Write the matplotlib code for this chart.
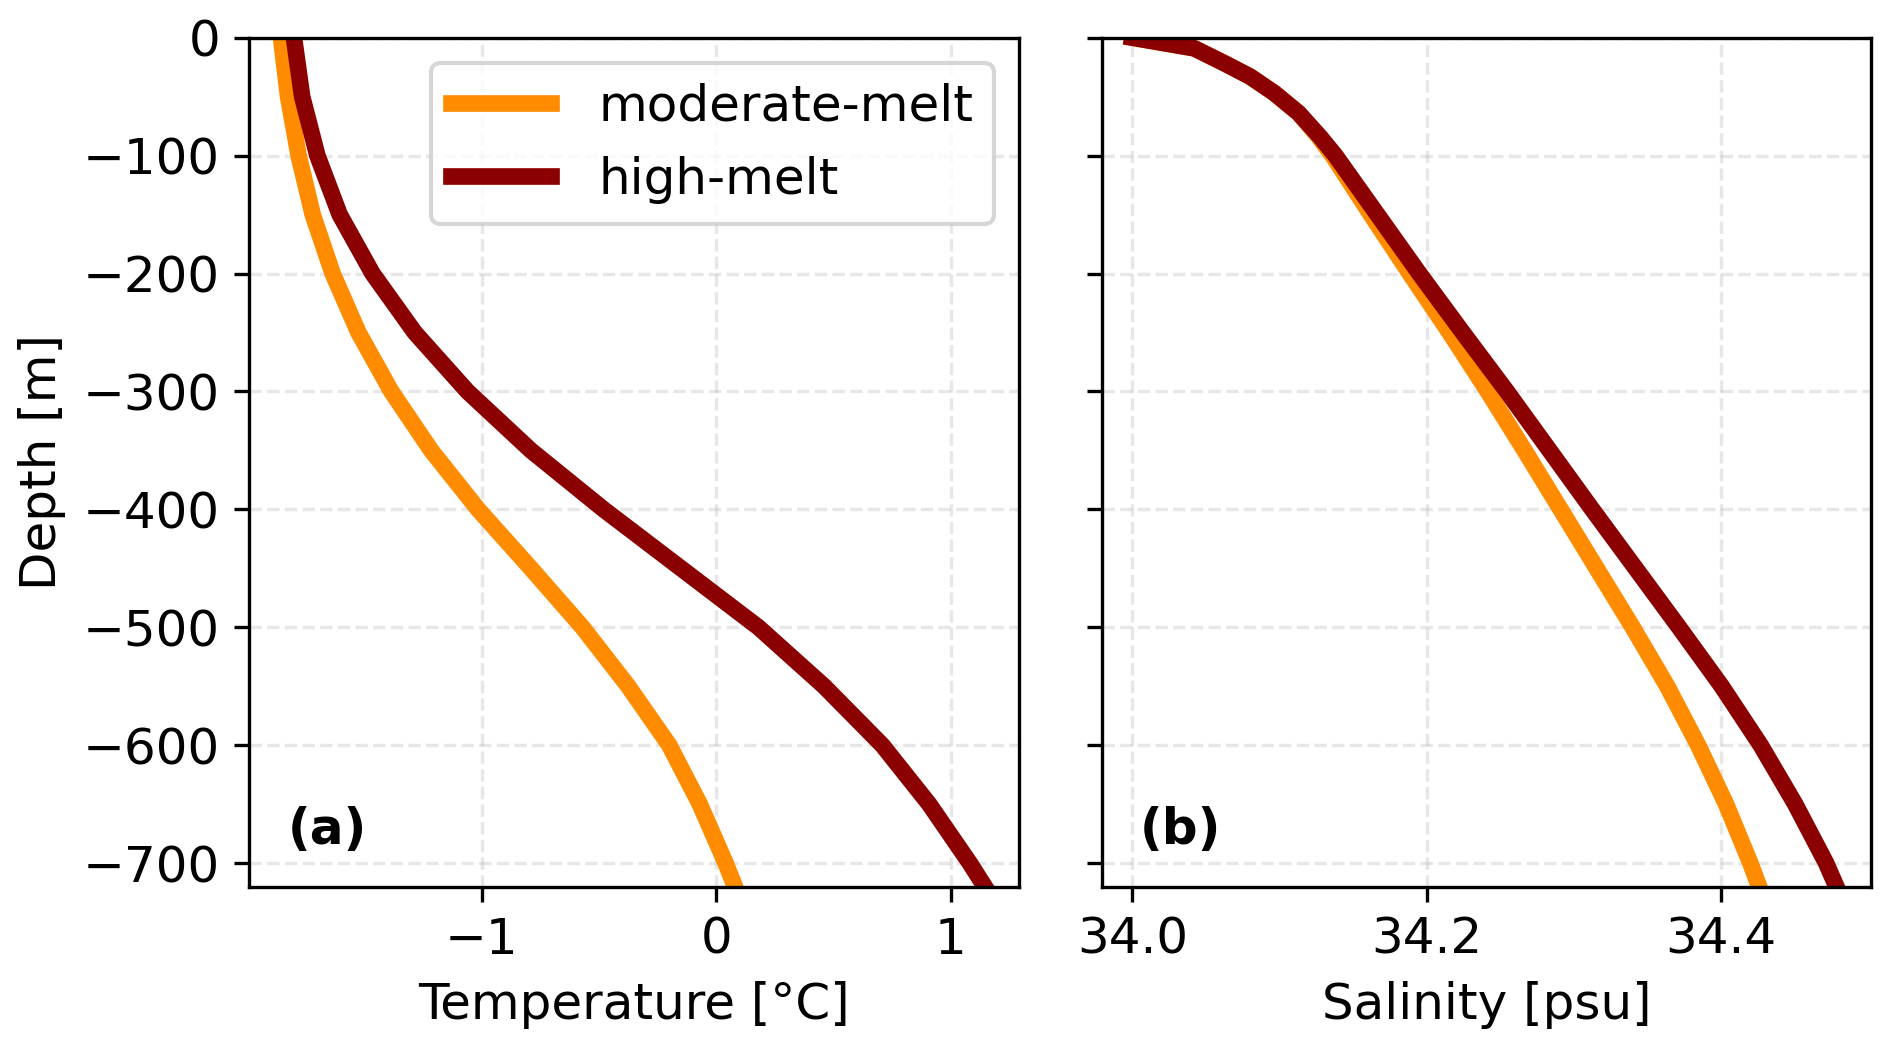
import matplotlib
matplotlib.use("Agg")
import matplotlib.pyplot as plt
from matplotlib.axes import Axes

# temperature profiles: depth [m] / temperature [degC]
depth_t = [0, -50, -100, -150, -200, -250, -300, -350, -400, -450, -500, -550, -600, -650, -700, -720]
temp_moderate = [-1.855, -1.825, -1.780, -1.720, -1.635, -1.525, -1.385, -1.215, -1.015, -0.790,
                 -0.570, -0.375, -0.200, -0.070, 0.040, 0.080]
temp_high = [-1.800, -1.765, -1.700, -1.605, -1.465, -1.285, -1.060, -0.790, -0.480, -0.150,
             0.180, 0.460, 0.708, 0.908, 1.081, 1.145]

# salinity profiles: depth [m] / salinity [psu]
depth_s = [0, -9, -22, -33, -47, -64, -84, -100, -150, -200, -250, -300, -350, -400, -450,
           -500, -550, -600, -650, -700, -720]
sal_moderate = [34.000, 34.042, 34.063, 34.080, 34.0965, 34.113, 34.1265, 34.136, 34.162, 34.1885,
                34.2155, 34.2415, 34.2665, 34.291, 34.3155, 34.340, 34.3635, 34.3845, 34.4035, 34.420, 34.426]
sal_high = [34.000, 34.042, 34.063, 34.080, 34.0965, 34.113, 34.1275, 34.138, 34.1665, 34.195,
            34.2245, 34.2545, 34.2835, 34.3125, 34.342, 34.3715, 34.4005, 34.427, 34.4505, 34.4715, 34.4785]

labels = ["moderate-melt", "high-melt"]
colors = ["darkorange", "darkred"]

y_ticks = [0, -100, -200, -300, -400, -500, -600, -700]
t_ticks = [-1, 0, 1]
s_ticks = [34.0, 34.2, 34.4]

plt.rcParams["font.size"] = 12
LW = 4


def main():
    fig, (ax1, ax2) = plt.subplots(1, 2, sharey=True, figsize=(1892 / 300, 1047 / 300), dpi=300)
    ax1: Axes
    ax2: Axes
    fig.subplots_adjust(left=0.1318, right=0.9889, bottom=0.1531, top=0.9640, wspace=0.1075)

    ax1.plot(temp_moderate, depth_t, color=colors[0], lw=LW, label=labels[0])
    ax1.plot(temp_high, depth_t, color=colors[1], lw=LW, label=labels[1])
    ax2.plot(sal_moderate, depth_s, color=colors[0], lw=LW)
    ax2.plot(sal_high, depth_s, color=colors[1], lw=LW)

    ax1.set_ylim(-720, 0)
    ax1.set_yticks(y_ticks)
    ax1.set_xlim(-1.99, 1.29)
    ax1.set_xticks(t_ticks)
    ax2.set_xlim(33.979, 34.502)
    ax2.set_xticks(s_ticks)

    ax1.set_xlabel("Temperature [°C]")
    ax1.set_ylabel("Depth [m]")
    ax2.set_xlabel("Salinity [psu]")

    for ax, tag in [(ax1, "(a)"), (ax2, "(b)")]:
        ax.grid(True, ls="--", alpha=0.3)
        ax.text(0.05, 0.05, tag, transform=ax.transAxes, fontweight="bold", va="baseline")

    ax1.legend(loc="upper right", handlelength=2.0, handletextpad=0.95)

    fig.savefig("out.png", dpi=300)


main()
